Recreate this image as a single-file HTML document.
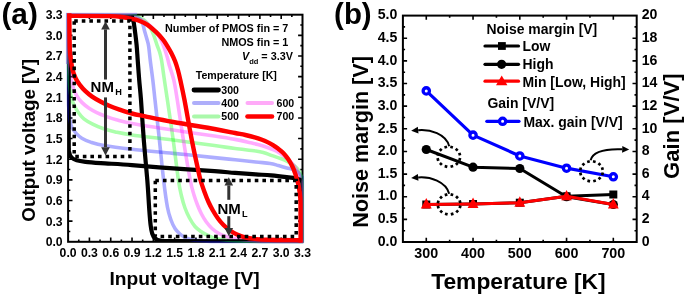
<!DOCTYPE html>
<html><head><meta charset="utf-8"><style>
html,body{margin:0;padding:0;background:#fff;width:685px;height:297px;overflow:hidden}
svg{display:block;will-change:transform}
text{font-family:"Liberation Sans",sans-serif}
</style></head><body>
<svg xmlns="http://www.w3.org/2000/svg" width="685" height="297" viewBox="0 0 685 297">
<rect width="685" height="297" fill="#fff"/>
<defs><clipPath id="ca"><rect x="65.7" y="12.5" width="238.8" height="231.5"/></clipPath><clipPath id="ck"><rect x="69" y="15.6" width="232.6" height="225.3"/></clipPath><clipPath id="cb"><rect x="401.9" y="14.6" width="235.8" height="228.4"/></clipPath></defs>
<rect x="68.1" y="14.7" width="234.4" height="227.1" fill="none" stroke="#000" stroke-width="2.0"/>
<path d="M78.75 241.8v-2.2 M78.75 14.7v2.2 M68.1 231.48h2.2 M302.5 231.48h-2.2 M89.41 241.8v-4.4 M89.41 14.7v4.4 M68.1 221.15h4.4 M302.5 221.15h-4.4 M100.06 241.8v-2.2 M100.06 14.7v2.2 M68.1 210.83h2.2 M302.5 210.83h-2.2 M110.72 241.8v-4.4 M110.72 14.7v4.4 M68.1 200.51h4.4 M302.5 200.51h-4.4 M121.37 241.8v-2.2 M121.37 14.7v2.2 M68.1 190.19h2.2 M302.5 190.19h-2.2 M132.03 241.8v-4.4 M132.03 14.7v4.4 M68.1 179.86h4.4 M302.5 179.86h-4.4 M142.68 241.8v-2.2 M142.68 14.7v2.2 M68.1 169.54h2.2 M302.5 169.54h-2.2 M153.34 241.8v-4.4 M153.34 14.7v4.4 M68.1 159.22h4.4 M302.5 159.22h-4.4 M163.99 241.8v-2.2 M163.99 14.7v2.2 M68.1 148.9h2.2 M302.5 148.9h-2.2 M174.65 241.8v-4.4 M174.65 14.7v4.4 M68.1 138.57h4.4 M302.5 138.57h-4.4 M185.3 241.8v-2.2 M185.3 14.7v2.2 M68.1 128.25h2.2 M302.5 128.25h-2.2 M195.95 241.8v-4.4 M195.95 14.7v4.4 M68.1 117.93h4.4 M302.5 117.93h-4.4 M206.61 241.8v-2.2 M206.61 14.7v2.2 M68.1 107.6h2.2 M302.5 107.6h-2.2 M217.26 241.8v-4.4 M217.26 14.7v4.4 M68.1 97.28h4.4 M302.5 97.28h-4.4 M227.92 241.8v-2.2 M227.92 14.7v2.2 M68.1 86.96h2.2 M302.5 86.96h-2.2 M238.57 241.8v-4.4 M238.57 14.7v4.4 M68.1 76.64h4.4 M302.5 76.64h-4.4 M249.23 241.8v-2.2 M249.23 14.7v2.2 M68.1 66.31h2.2 M302.5 66.31h-2.2 M259.88 241.8v-4.4 M259.88 14.7v4.4 M68.1 55.99h4.4 M302.5 55.99h-4.4 M270.54 241.8v-2.2 M270.54 14.7v2.2 M68.1 45.67h2.2 M302.5 45.67h-2.2 M281.19 241.8v-4.4 M281.19 14.7v4.4 M68.1 35.35h4.4 M302.5 35.35h-4.4 M291.85 241.8v-2.2 M291.85 14.7v2.2 M68.1 25.02h2.2 M302.5 25.02h-2.2" stroke="#000" stroke-width="1.6" fill="none"/>
<g clip-path="url(#ca)" fill="none" stroke-linejoin="round" stroke-linecap="butt">
<path d="M67.3 14.7 C77.42 14.72 116.72 14.65 128 14.8 C139.28 14.95 133 14.9 135 15.6 C137 16.3 138.7 17.6 140 19 C141.3 20.4 142.08 22.17 142.8 24 C143.52 25.83 143.67 27.67 144.3 30 C144.93 32.33 145.88 35.33 146.6 38 C147.32 40.67 148 42.33 148.6 46 C149.2 49.67 149.5 54.33 150.2 60 C150.9 65.67 152 73.33 152.8 80 C153.6 86.67 153.9 90 155 100 C156.1 110 157.97 126.67 159.4 140 C160.83 153.33 162.27 168.83 163.6 180 C164.93 191.17 166.17 200.33 167.4 207 C168.63 213.67 169.73 216.42 171 220 C172.27 223.58 173.5 226.17 175 228.5 C176.5 230.83 178.17 232.42 180 234 C181.83 235.58 183.83 237 186 238 C188.17 239 189.83 239.5 193 240 C196.17 240.5 200.5 240.75 205 241 C209.5 241.25 203.62 241.4 220 241.5 C236.38 241.6 289.42 241.58 303.3 241.6" stroke="#0000ff" stroke-width="3.6" stroke-opacity="0.32"/>
<path d="M302.5 242.58 C302.48 232.77 302.55 194.7 302.4 183.77 C302.24 172.83 302.29 178.92 301.57 176.98 C300.85 175.05 299.51 173.4 298.06 172.14 C296.62 170.88 294.79 170.12 292.9 169.43 C291.01 168.73 289.12 168.61 286.71 167.97 C284.3 167.33 281.2 166.35 278.45 165.59 C275.7 164.83 273.98 164 270.19 163.41 C266.41 162.82 261.59 162.66 255.74 162.05 C249.9 161.43 241.98 160.48 235.1 159.74 C228.22 159 224.78 158.67 214.46 157.61 C204.14 156.54 186.93 154.73 173.17 153.34 C159.41 151.95 143.41 150.57 131.89 149.27 C120.36 147.98 110.9 146.79 104.02 145.59 C97.14 144.4 94.3 143.33 90.6 142.1 C86.9 140.88 84.24 139.68 81.83 138.23 C79.42 136.78 77.78 135.16 76.15 133.38 C74.52 131.61 73.05 129.67 72.02 127.57 C70.99 125.47 70.47 123.86 69.96 120.79 C69.44 117.72 69.18 113.52 68.93 109.16 C68.67 104.8 68.51 110.5 68.41 94.63 C68.31 78.76 68.32 27.38 68.31 13.92" stroke="#0000ff" stroke-width="3.6" stroke-opacity="0.32"/>
<path d="M67.3 15 C77.25 15.03 115.3 14.95 127 15.2 C138.7 15.45 134.67 15.7 137.5 16.5 C140.33 17.3 142.17 18.58 144 20 C145.83 21.42 147.25 23.33 148.5 25 C149.75 26.67 150.58 28.17 151.5 30 C152.42 31.83 153.08 33.5 154 36 C154.92 38.5 156.07 42.33 157 45 C157.93 47.67 158.85 49.5 159.6 52 C160.35 54.5 160.7 55.33 161.5 60 C162.3 64.67 163.42 73.33 164.4 80 C165.38 86.67 165.93 90 167.4 100 C168.87 110 171.37 126.67 173.2 140 C175.03 153.33 177.02 170.67 178.4 180 C179.78 189.33 180.4 191.33 181.5 196 C182.6 200.67 183.67 204.33 185 208 C186.33 211.67 187.83 214.92 189.5 218 C191.17 221.08 193.08 224.25 195 226.5 C196.92 228.75 198.83 230 201 231.5 C203.17 233 205.5 234.33 208 235.5 C210.5 236.67 212.67 237.7 216 238.5 C219.33 239.3 223.17 239.85 228 240.3 C232.83 240.75 239.67 241 245 241.2 C250.33 241.4 250.28 241.43 260 241.5 C269.72 241.57 296.08 241.58 303.3 241.6" stroke="#00ff00" stroke-width="3.6" stroke-opacity="0.33"/>
<path d="M302.19 242.58 C302.16 232.93 302.24 196.07 301.98 184.73 C301.73 173.4 301.47 177.31 300.64 174.56 C299.82 171.82 298.49 170.04 297.03 168.26 C295.57 166.49 293.59 165.11 291.87 163.9 C290.15 162.69 288.6 161.9 286.71 161 C284.82 160.1 283.1 159.43 280.52 158.5 C277.93 157.57 273.98 156.36 271.23 155.39 C268.47 154.43 266.58 153.44 264 152.7 C261.42 151.96 260.56 151.65 255.74 150.95 C250.93 150.25 241.98 149.39 235.1 148.5 C228.22 147.61 224.78 147.01 214.46 145.59 C204.14 144.17 186.93 141.75 173.17 139.97 C159.41 138.2 141.52 136.28 131.89 134.94 C122.25 133.59 120.19 133 115.37 131.93 C110.56 130.87 106.77 129.83 102.99 128.54 C99.2 127.25 95.85 125.8 92.67 124.18 C89.48 122.57 86.21 120.71 83.89 118.85 C81.57 117 80.28 115.14 78.73 113.04 C77.18 110.94 75.81 108.68 74.6 106.26 C73.4 103.83 72.33 101.74 71.51 98.51 C70.68 95.28 70.11 91.56 69.65 86.88 C69.18 82.2 68.93 75.58 68.72 70.41 C68.51 65.24 68.48 65.29 68.41 55.88 C68.34 46.46 68.32 20.92 68.31 13.92" stroke="#00ff00" stroke-width="3.6" stroke-opacity="0.33"/>
<path d="M67.3 15.5 C76.75 15.55 112.88 15.52 124 15.8 C135.12 16.08 130.83 16.42 134 17.2 C137.17 17.98 140.33 19.12 143 20.5 C145.67 21.88 148 23.75 150 25.5 C152 27.25 153.5 29.17 155 31 C156.5 32.83 157.83 34.67 159 36.5 C160.17 38.33 161 39.75 162 42 C163 44.25 164.08 47.33 165 50 C165.92 52.67 166.8 55.5 167.5 58 C168.2 60.5 168.15 61.33 169.2 65 C170.25 68.67 172.45 74.17 173.8 80 C175.15 85.83 175.7 90 177.3 100 C178.9 110 181.25 126.67 183.4 140 C185.55 153.33 188.43 170.83 190.2 180 C191.97 189.17 192.78 190.83 194 195 C195.22 199.17 196.25 201.83 197.5 205 C198.75 208.17 200.08 211.25 201.5 214 C202.92 216.75 204.25 219.08 206 221.5 C207.75 223.92 209.83 226.5 212 228.5 C214.17 230.5 216.5 232.12 219 233.5 C221.5 234.88 224 235.88 227 236.8 C230 237.72 232.83 238.38 237 239 C241.17 239.62 246.5 240.12 252 240.5 C257.5 240.88 261.45 241.13 270 241.3 C278.55 241.47 297.75 241.47 303.3 241.5" stroke="#ff00ff" stroke-width="3.6" stroke-opacity="0.33"/>
<path d="M301.67 242.58 C301.62 233.42 301.66 198.41 301.36 187.64 C301.07 176.87 300.73 181.02 299.92 177.95 C299.11 174.88 297.94 171.82 296.51 169.23 C295.09 166.64 293.16 164.41 291.35 162.42 C289.55 160.43 287.57 158.83 285.68 157.29 C283.78 155.75 281.89 154.39 280 153.19 C278.11 151.99 276.64 151.11 274.32 150.08 C272 149.05 268.82 147.92 266.07 147 C263.31 146.07 260.39 145.23 257.81 144.53 C255.23 143.84 254.37 143.71 250.58 142.85 C246.8 141.99 241.12 140.53 235.1 139.39 C229.08 138.25 224.78 137.55 214.46 136 C204.14 134.45 186.93 132.17 173.17 130.09 C159.41 128.01 141.35 125.21 131.89 123.5 C122.43 121.79 120.7 121 116.4 119.82 C112.1 118.64 109.35 117.64 106.08 116.43 C102.81 115.22 99.63 113.93 96.79 112.55 C93.96 111.18 91.55 109.89 89.05 108.19 C86.56 106.5 83.89 104.48 81.83 102.38 C79.76 100.28 78.09 98.02 76.67 95.6 C75.24 93.18 74.21 90.76 73.26 87.85 C72.31 84.94 71.63 82.2 70.99 78.16 C70.35 74.12 69.84 68.96 69.44 63.63 C69.05 58.3 68.79 54.47 68.62 46.19 C68.44 37.9 68.44 19.3 68.41 13.92" stroke="#ff00ff" stroke-width="3.6" stroke-opacity="0.33"/>
<path d="M67.3 14.7 C77.08 14.7 115.33 14.48 126 14.7 C136.67 14.92 130.07 14.95 131.3 16 C132.53 17.05 132.82 18.67 133.4 21 C133.98 23.33 134.27 26 134.8 30 C135.33 34 136.12 40 136.6 45 C137.08 50 137.27 54.17 137.7 60 C138.13 65.83 138.65 73.33 139.2 80 C139.75 86.67 140.23 90 141 100 C141.77 110 142.75 126.67 143.8 140 C144.85 153.33 146.38 168.33 147.3 180 C148.22 191.67 148.75 202.5 149.3 210 C149.85 217.5 150.12 221.08 150.6 225 C151.08 228.92 151.47 231.28 152.2 233.5 C152.93 235.72 153.7 237.12 155 238.3 C156.3 239.48 156.67 240.12 160 240.6 C163.33 241.08 151.12 241.08 175 241.2 C198.88 241.32 281.92 241.28 303.3 241.3" stroke="#000" stroke-width="4.2" clip-path="url(#ck)"/>
<path d="M302.5 242.58 C302.5 233.1 302.72 196.04 302.5 185.7 C302.28 175.37 302.24 181.76 301.16 180.57 C300.07 179.37 298.41 179.1 296 178.53 C293.59 177.97 290.84 177.69 286.71 177.18 C282.58 176.66 276.39 175.9 271.23 175.43 C266.07 174.97 261.76 174.79 255.74 174.37 C249.72 173.95 241.98 173.45 235.1 172.91 C228.22 172.38 224.78 171.91 214.46 171.17 C204.14 170.43 186.93 169.47 173.17 168.46 C159.41 167.44 143.93 165.95 131.89 165.07 C119.84 164.18 108.66 163.66 100.92 163.13 C93.18 162.6 89.48 162.34 85.44 161.87 C81.4 161.4 78.95 161.03 76.67 160.32 C74.38 159.61 72.93 158.87 71.71 157.61 C70.49 156.35 69.84 155.99 69.34 152.76 C68.84 149.53 68.84 161.37 68.72 138.23 C68.6 115.09 68.63 34.64 68.62 13.92" stroke="#000" stroke-width="4.2" clip-path="url(#ck)"/>
<path d="M65.8 13.5H137M66.5 13V64" stroke="#9c94dc" stroke-width="1.5"/>
<path d="M67.3 15.9 C74.42 15.93 100.88 15.92 110 16.1 C119.12 16.28 118.67 16.6 122 17 C125.33 17.4 127.27 17.92 130 18.5 C132.73 19.08 135.48 19.45 138.4 20.5 C141.32 21.55 144.53 22.85 147.5 24.8 C150.47 26.75 153.62 29.73 156.2 32.2 C158.78 34.67 161.17 37.33 163 39.6 C164.83 41.87 165.82 43.57 167.2 45.8 C168.58 48.03 170 50.47 171.3 53 C172.6 55.53 173.9 58.17 175 61 C176.1 63.83 177.02 66.83 177.9 70 C178.78 73.17 179.2 75 180.3 80 C181.4 85 182.58 90 184.5 100 C186.42 110 189.63 128.83 191.8 140 C193.97 151.17 196.05 160.33 197.5 167 C198.95 173.67 199.33 175.83 200.5 180 C201.67 184.17 203.17 188.33 204.5 192 C205.83 195.67 207.1 198.92 208.5 202 C209.9 205.08 211.32 207.75 212.9 210.5 C214.48 213.25 216.23 216.08 218 218.5 C219.77 220.92 221.5 223 223.5 225 C225.5 227 227.75 228.92 230 230.5 C232.25 232.08 234.5 233.37 237 234.5 C239.5 235.63 242 236.57 245 237.3 C248 238.03 251.17 238.48 255 238.9 C258.83 239.32 260.2 239.58 268 239.8 C275.8 240.02 296.17 240.13 301.8 240.2" stroke="#ff0000" stroke-width="4.4"/>
<path d="M69.3 13.2 C69.38 19 69.52 40.12 69.8 48 C70.08 55.88 70.52 56.77 71 60.5 C71.48 64.23 71.93 67.45 72.7 70.4 C73.47 73.35 74.42 75.78 75.6 78.2 C76.78 80.62 78.17 82.73 79.8 84.9 C81.43 87.07 83.35 89.25 85.4 91.2 C87.45 93.15 89.6 94.88 92.1 96.6 C94.6 98.32 97.55 99.97 100.4 101.5 C103.25 103.03 106.02 104.45 109.2 105.8 C112.38 107.15 115.72 108.32 119.5 109.6 C123.28 110.88 127.6 112.37 131.9 113.5 C136.2 114.63 138.42 114.98 145.3 116.4 C152.18 117.82 161.67 119.9 173.2 122 C184.73 124.1 204.18 127.17 214.5 129 C224.82 130.83 229.95 132 235.1 133 C240.25 134 242.13 134.28 245.4 135 C248.67 135.72 251.93 136.5 254.7 137.3 C257.47 138.1 259.78 138.95 262 139.8 C264.22 140.65 266.17 141.5 268 142.4 C269.83 143.3 271.33 144.17 273 145.2 C274.67 146.23 276.25 147.27 278 148.6 C279.75 149.93 281.78 151.42 283.5 153.2 C285.22 154.98 286.83 157.12 288.3 159.3 C289.77 161.48 291.15 163.93 292.3 166.3 C293.45 168.67 294.37 171.13 295.2 173.5 C296.03 175.87 296.67 178.08 297.3 180.5 C297.93 182.92 298.53 185.42 299 188 C299.47 190.58 299.85 193.17 300.1 196 C300.35 198.83 300.42 197.25 300.5 205 C300.58 212.75 300.58 236.25 300.6 242.5" stroke="#ff0000" stroke-width="4.4"/>
</g>
<path d="M74.2 20.9H129.9V156.4H74.2Z" fill="none" stroke="#000" stroke-width="3.5" stroke-dasharray="3.6 3.97" stroke-dashoffset="0" stroke-linejoin="miter"/>
<path d="M155.3 180.6H296.2V236.6H155.3Z" fill="none" stroke="#000" stroke-width="3.5" stroke-dasharray="3.6 4.05" stroke-dashoffset="0" stroke-linejoin="miter"/>
<path d="M105.5 29.4V79.5" stroke="#333" stroke-width="3.0"/><path d="M105.5 21.2L101.2 29.4L109.8 29.4Z" fill="#333"/>
<path d="M105.5 147.2V97.4" stroke="#333" stroke-width="3.0"/><path d="M105.5 155.4L101.2 147.2L109.8 147.2Z" fill="#333"/>
<path d="M228.8 185.4V199.8" stroke="#333" stroke-width="3.0"/><path d="M228.8 177.2L224.5 185.4L233.1 185.4Z" fill="#333"/>
<path d="M228.8 228V216.2" stroke="#333" stroke-width="3.0"/><path d="M228.8 236.2L224.5 228L233.1 228Z" fill="#333"/>
<rect x="402.9" y="15.6" width="233.8" height="226.4" fill="none" stroke="#000" stroke-width="2.0"/>
<path d="M426.28 242v-4.2 M426.28 15.6v4.2 M449.66 242v-2.2 M449.66 15.6v2.2 M473.04 242v-4.2 M473.04 15.6v4.2 M496.42 242v-2.2 M496.42 15.6v2.2 M519.8 242v-4.2 M519.8 15.6v4.2 M543.18 242v-2.2 M543.18 15.6v2.2 M566.56 242v-4.2 M566.56 15.6v4.2 M589.94 242v-2.2 M589.94 15.6v2.2 M613.32 242v-4.2 M613.32 15.6v4.2 M402.9 230.68h2.2 M636.7 230.68h-2.2 M402.9 219.36h4.2 M636.7 219.36h-4.2 M402.9 208.04h2.2 M636.7 208.04h-2.2 M402.9 196.72h4.2 M636.7 196.72h-4.2 M402.9 185.4h2.2 M636.7 185.4h-2.2 M402.9 174.08h4.2 M636.7 174.08h-4.2 M402.9 162.76h2.2 M636.7 162.76h-2.2 M402.9 151.44h4.2 M636.7 151.44h-4.2 M402.9 140.12h2.2 M636.7 140.12h-2.2 M402.9 128.8h4.2 M636.7 128.8h-4.2 M402.9 117.48h2.2 M636.7 117.48h-2.2 M402.9 106.16h4.2 M636.7 106.16h-4.2 M402.9 94.84h2.2 M636.7 94.84h-2.2 M402.9 83.52h4.2 M636.7 83.52h-4.2 M402.9 72.2h2.2 M636.7 72.2h-2.2 M402.9 60.88h4.2 M636.7 60.88h-4.2 M402.9 49.56h2.2 M636.7 49.56h-2.2 M402.9 38.24h4.2 M636.7 38.24h-4.2 M402.9 26.92h2.2 M636.7 26.92h-2.2" stroke="#000" stroke-width="1.6" fill="none"/>
<polyline points="426.28,204.51 473.04,204.01 519.8,202.7 566.56,196.31 613.32,194.5" fill="none" stroke="#000" stroke-width="3" stroke-linejoin="round"/>
<rect x="422.28" y="200.51" width="8" height="8" fill="#000"/>
<rect x="469.04" y="200.01" width="8" height="8" fill="#000"/>
<rect x="515.8" y="198.7" width="8" height="8" fill="#000"/>
<rect x="562.56" y="192.31" width="8" height="8" fill="#000"/>
<rect x="609.32" y="190.5" width="8" height="8" fill="#000"/>
<polyline points="426.28,149.49 473.04,167.2 519.8,168.51 566.56,196.72 613.32,204.51" fill="none" stroke="#000" stroke-width="3" stroke-linejoin="round"/>
<circle cx="426.28" cy="149.49" r="4.6" fill="#000"/>
<circle cx="473.04" cy="167.2" r="4.6" fill="#000"/>
<circle cx="519.8" cy="168.51" r="4.6" fill="#000"/>
<circle cx="566.56" cy="196.72" r="4.6" fill="#000"/>
<circle cx="613.32" cy="204.51" r="4.6" fill="#000"/>
<polyline points="426.28,204.51 473.04,204.01 519.8,202.7 566.56,196.31 613.32,204.51" fill="none" stroke="#ff0000" stroke-width="3" stroke-linejoin="round"/>
<path d="M426.28 198.11L420.88 208.51L431.68 208.51Z" fill="#ff0000"/>
<path d="M473.04 197.61L467.64 208.01L478.44 208.01Z" fill="#ff0000"/>
<path d="M519.8 196.3L514.4 206.7L525.2 206.7Z" fill="#ff0000"/>
<path d="M566.56 189.91L561.16 200.31L571.96 200.31Z" fill="#ff0000"/>
<path d="M613.32 198.11L607.92 208.51L618.72 208.51Z" fill="#ff0000"/>
<polyline points="426.28,90.9 473.04,135.14 519.8,155.97 566.56,168.19 613.32,176.8" fill="none" stroke="#0000ff" stroke-width="3.2" stroke-linejoin="round"/>
<circle cx="426.28" cy="90.9" r="3.15" fill="#fff" stroke="#0000ff" stroke-width="3.3"/>
<circle cx="473.04" cy="135.14" r="3.15" fill="#fff" stroke="#0000ff" stroke-width="3.3"/>
<circle cx="519.8" cy="155.97" r="3.15" fill="#fff" stroke="#0000ff" stroke-width="3.3"/>
<circle cx="566.56" cy="168.19" r="3.15" fill="#fff" stroke="#0000ff" stroke-width="3.3"/>
<circle cx="613.32" cy="176.8" r="3.15" fill="#fff" stroke="#0000ff" stroke-width="3.3"/>
<rect x="458.4" y="157.92" width="2.7" height="2.7" fill="#000" transform="rotate(14.32 459.75 159.27)"/><rect x="455.53" y="162.44" width="2.7" height="2.7" fill="#000" transform="rotate(44.32 456.88 163.79)"/><rect x="450.5" y="165.08" width="2.7" height="2.7" fill="#000" transform="rotate(74.32 451.85 166.43)"/><rect x="444.65" y="165.14" width="2.7" height="2.7" fill="#000" transform="rotate(104.32 446 166.49)"/><rect x="439.55" y="162.6" width="2.7" height="2.7" fill="#000" transform="rotate(134.32 440.9 163.95)"/><rect x="436.57" y="158.15" width="2.7" height="2.7" fill="#000" transform="rotate(164.32 437.92 159.5)"/><rect x="436.5" y="152.98" width="2.7" height="2.7" fill="#000" transform="rotate(194.32 437.85 154.33)"/><rect x="439.37" y="148.46" width="2.7" height="2.7" fill="#000" transform="rotate(224.32 440.72 149.81)"/><rect x="444.4" y="145.82" width="2.7" height="2.7" fill="#000" transform="rotate(254.32 445.75 147.17)"/><rect x="450.25" y="145.76" width="2.7" height="2.7" fill="#000" transform="rotate(284.32 451.6 147.11)"/><rect x="455.35" y="148.3" width="2.7" height="2.7" fill="#000" transform="rotate(314.32 456.7 149.65)"/><rect x="458.33" y="152.75" width="2.7" height="2.7" fill="#000" transform="rotate(344.32 459.68 154.1)"/>
<rect x="458.7" y="205.52" width="2.7" height="2.7" fill="#000" transform="rotate(14.32 460.05 206.87)"/><rect x="455.83" y="210.04" width="2.7" height="2.7" fill="#000" transform="rotate(44.32 457.18 211.39)"/><rect x="450.8" y="212.68" width="2.7" height="2.7" fill="#000" transform="rotate(74.32 452.15 214.03)"/><rect x="444.95" y="212.74" width="2.7" height="2.7" fill="#000" transform="rotate(104.32 446.3 214.09)"/><rect x="439.85" y="210.2" width="2.7" height="2.7" fill="#000" transform="rotate(134.32 441.2 211.55)"/><rect x="436.87" y="205.75" width="2.7" height="2.7" fill="#000" transform="rotate(164.32 438.22 207.1)"/><rect x="436.8" y="200.58" width="2.7" height="2.7" fill="#000" transform="rotate(194.32 438.15 201.93)"/><rect x="439.67" y="196.06" width="2.7" height="2.7" fill="#000" transform="rotate(224.32 441.02 197.41)"/><rect x="444.7" y="193.42" width="2.7" height="2.7" fill="#000" transform="rotate(254.32 446.05 194.77)"/><rect x="450.55" y="193.36" width="2.7" height="2.7" fill="#000" transform="rotate(284.32 451.9 194.71)"/><rect x="455.65" y="195.9" width="2.7" height="2.7" fill="#000" transform="rotate(314.32 457 197.25)"/><rect x="458.63" y="200.35" width="2.7" height="2.7" fill="#000" transform="rotate(344.32 459.98 201.7)"/>
<rect x="601.1" y="172.42" width="2.7" height="2.7" fill="#000" transform="rotate(14.32 602.45 173.77)"/><rect x="598.23" y="176.94" width="2.7" height="2.7" fill="#000" transform="rotate(44.32 599.58 178.29)"/><rect x="593.2" y="179.58" width="2.7" height="2.7" fill="#000" transform="rotate(74.32 594.55 180.93)"/><rect x="587.35" y="179.64" width="2.7" height="2.7" fill="#000" transform="rotate(104.32 588.7 180.99)"/><rect x="582.25" y="177.1" width="2.7" height="2.7" fill="#000" transform="rotate(134.32 583.6 178.45)"/><rect x="579.27" y="172.65" width="2.7" height="2.7" fill="#000" transform="rotate(164.32 580.62 174)"/><rect x="579.2" y="167.48" width="2.7" height="2.7" fill="#000" transform="rotate(194.32 580.55 168.83)"/><rect x="582.07" y="162.96" width="2.7" height="2.7" fill="#000" transform="rotate(224.32 583.42 164.31)"/><rect x="587.1" y="160.32" width="2.7" height="2.7" fill="#000" transform="rotate(254.32 588.45 161.67)"/><rect x="592.95" y="160.26" width="2.7" height="2.7" fill="#000" transform="rotate(284.32 594.3 161.61)"/><rect x="598.05" y="162.8" width="2.7" height="2.7" fill="#000" transform="rotate(314.32 599.4 164.15)"/><rect x="601.03" y="167.25" width="2.7" height="2.7" fill="#000" transform="rotate(344.32 602.38 168.6)"/>
<path d="M449.2 146.2C446 134 430 129 418.17 130.13" fill="none" stroke="#000" stroke-width="2"/><path d="M411.2 130.8L417.85 126.85L418.48 133.42Z" fill="#000"/>
<path d="M449.2 193.8C446 181.6 430 176.4 418.17 177.41" fill="none" stroke="#000" stroke-width="2"/><path d="M411.2 178L417.89 174.12L418.45 180.69Z" fill="#000"/>
<path d="M590.6 160.2C593 151 608 148.8 622.2 149.34" fill="none" stroke="#000" stroke-width="2"/><path d="M629.2 149.6L622.08 152.63L622.33 146.04Z" fill="#000"/>
<g stroke-linecap="round" fill="none">
<path d="M194 90H218.5" stroke="#000" stroke-width="4.8"/>
<path d="M194 103.1H218.5" stroke="#aeaefa" stroke-width="4"/>
<path d="M194 116.5H218.5" stroke="#aaf8aa" stroke-width="4"/>
<path d="M247.5 103.1H272" stroke="#ffaaf8" stroke-width="4"/>
<path d="M247.5 116.5H272" stroke="#ff0000" stroke-width="4.6"/>
</g>
<g stroke-linecap="round">
<path d="M485 46H518.5" stroke="#000" stroke-width="3.2"/><rect x="498" y="42.1" width="7.8" height="7.8"/>
<path d="M485 64.3H518.5" stroke="#000" stroke-width="3.2"/><circle cx="501.6" cy="64.3" r="4.6"/>
<path d="M485 81.2H518.5" stroke="#f00" stroke-width="3.2"/><path d="M501.7 75.4L496 85.2L507.4 85.2Z" fill="#f00"/>
<path d="M486.8 121.3H519" stroke="#00f" stroke-width="3.2"/><circle cx="502.6" cy="121.3" r="3.15" fill="#fff" stroke="#00f" stroke-width="3.3"/>
</g>
<g font-family="Liberation Sans, sans-serif" fill="#000">
<text x="68.1" y="256.9" font-size="12.2" text-anchor="middle" font-weight="bold">0.0</text>
<text x="62.6" y="246.2" font-size="12.2" text-anchor="end" font-weight="bold">0.0</text>
<text x="89.41" y="256.9" font-size="12.2" text-anchor="middle" font-weight="bold">0.3</text>
<text x="62.6" y="225.55" font-size="12.2" text-anchor="end" font-weight="bold">0.3</text>
<text x="110.72" y="256.9" font-size="12.2" text-anchor="middle" font-weight="bold">0.6</text>
<text x="62.6" y="204.91" font-size="12.2" text-anchor="end" font-weight="bold">0.6</text>
<text x="132.03" y="256.9" font-size="12.2" text-anchor="middle" font-weight="bold">0.9</text>
<text x="62.6" y="184.26" font-size="12.2" text-anchor="end" font-weight="bold">0.9</text>
<text x="153.34" y="256.9" font-size="12.2" text-anchor="middle" font-weight="bold">1.2</text>
<text x="62.6" y="163.62" font-size="12.2" text-anchor="end" font-weight="bold">1.2</text>
<text x="174.65" y="256.9" font-size="12.2" text-anchor="middle" font-weight="bold">1.5</text>
<text x="62.6" y="142.97" font-size="12.2" text-anchor="end" font-weight="bold">1.5</text>
<text x="195.95" y="256.9" font-size="12.2" text-anchor="middle" font-weight="bold">1.8</text>
<text x="62.6" y="122.33" font-size="12.2" text-anchor="end" font-weight="bold">1.8</text>
<text x="217.26" y="256.9" font-size="12.2" text-anchor="middle" font-weight="bold">2.1</text>
<text x="62.6" y="101.68" font-size="12.2" text-anchor="end" font-weight="bold">2.1</text>
<text x="238.57" y="256.9" font-size="12.2" text-anchor="middle" font-weight="bold">2.4</text>
<text x="62.6" y="81.04" font-size="12.2" text-anchor="end" font-weight="bold">2.4</text>
<text x="259.88" y="256.9" font-size="12.2" text-anchor="middle" font-weight="bold">2.7</text>
<text x="62.6" y="60.39" font-size="12.2" text-anchor="end" font-weight="bold">2.7</text>
<text x="281.19" y="256.9" font-size="12.2" text-anchor="middle" font-weight="bold">3.0</text>
<text x="62.6" y="39.75" font-size="12.2" text-anchor="end" font-weight="bold">3.0</text>
<text x="302.5" y="256.9" font-size="12.2" text-anchor="middle" font-weight="bold">3.3</text>
<text x="62.6" y="19.3" font-size="12.2" text-anchor="end" font-weight="bold">3.3</text>
<text x="184.6" y="284.8" font-size="19.2" text-anchor="middle" font-weight="bold">Input voltage [V]</text>
<text x="35" y="140.3" font-size="18.8" text-anchor="middle" font-weight="bold" transform="rotate(-90 35 140.3)">Output voltage [V]</text>
<text x="1.4" y="24.2" font-size="29.8" text-anchor="start" font-weight="bold">(a)</text>
<text x="288.3" y="32.3" font-size="10.8" text-anchor="end" font-weight="bold">Number of PMOS fin = 7</text>
<text x="288.3" y="45.6" font-size="10.8" text-anchor="end" font-weight="bold">NMOS fin = 1</text>
<text x="292.9" y="60.3" font-size="10.8" text-anchor="end" font-weight="bold"><tspan font-style="italic">V</tspan><tspan font-size="7.5" dy="3.5">dd</tspan><tspan dy="-3.5"> = 3.3V</tspan></text>
<text x="195.8" y="78.6" font-size="10.6" text-anchor="start" font-weight="bold">Temperature [K]</text>
<text x="221.3" y="93.7" font-size="10.6" text-anchor="start" font-weight="bold">300</text>
<text x="221.3" y="106.9" font-size="10.6" text-anchor="start" font-weight="bold">400</text>
<text x="221.3" y="120.3" font-size="10.6" text-anchor="start" font-weight="bold">500</text>
<text x="276.5" y="106.9" font-size="10.6" text-anchor="start" font-weight="bold">600</text>
<text x="276.5" y="120.3" font-size="10.6" text-anchor="start" font-weight="bold">700</text>
<text x="90.6" y="91.6" font-size="15" font-weight="bold">NM<tspan font-size="9.2" dx="1.2" dy="3">H</tspan></text>
<text x="217.5" y="213.6" font-size="15" font-weight="bold">NM<tspan font-size="9.2" dx="1.2" dy="3">L</tspan></text>
<text x="397.3" y="245.7" font-size="14.1" text-anchor="end" font-weight="bold">0.0</text>
<text x="397.3" y="223.06" font-size="14.1" text-anchor="end" font-weight="bold">0.5</text>
<text x="397.3" y="200.42" font-size="14.1" text-anchor="end" font-weight="bold">1.0</text>
<text x="397.3" y="177.78" font-size="14.1" text-anchor="end" font-weight="bold">1.5</text>
<text x="397.3" y="155.14" font-size="14.1" text-anchor="end" font-weight="bold">2.0</text>
<text x="397.3" y="132.5" font-size="14.1" text-anchor="end" font-weight="bold">2.5</text>
<text x="397.3" y="109.86" font-size="14.1" text-anchor="end" font-weight="bold">3.0</text>
<text x="397.3" y="87.22" font-size="14.1" text-anchor="end" font-weight="bold">3.5</text>
<text x="397.3" y="64.58" font-size="14.1" text-anchor="end" font-weight="bold">4.0</text>
<text x="397.3" y="41.94" font-size="14.1" text-anchor="end" font-weight="bold">4.5</text>
<text x="397.3" y="19.3" font-size="14.1" text-anchor="end" font-weight="bold">5.0</text>
<text x="641.7" y="245.7" font-size="14.1" text-anchor="start" font-weight="bold">0</text>
<text x="641.7" y="223.06" font-size="14.1" text-anchor="start" font-weight="bold">2</text>
<text x="641.7" y="200.42" font-size="14.1" text-anchor="start" font-weight="bold">4</text>
<text x="641.7" y="177.78" font-size="14.1" text-anchor="start" font-weight="bold">6</text>
<text x="641.7" y="155.14" font-size="14.1" text-anchor="start" font-weight="bold">8</text>
<text x="641.7" y="132.5" font-size="14.1" text-anchor="start" font-weight="bold">10</text>
<text x="641.7" y="109.86" font-size="14.1" text-anchor="start" font-weight="bold">12</text>
<text x="641.7" y="87.22" font-size="14.1" text-anchor="start" font-weight="bold">14</text>
<text x="641.7" y="64.58" font-size="14.1" text-anchor="start" font-weight="bold">16</text>
<text x="641.7" y="41.94" font-size="14.1" text-anchor="start" font-weight="bold">18</text>
<text x="641.7" y="19.3" font-size="14.1" text-anchor="start" font-weight="bold">20</text>
<text x="426.28" y="258.3" font-size="14.3" text-anchor="middle" font-weight="bold">300</text>
<text x="473.04" y="258.3" font-size="14.3" text-anchor="middle" font-weight="bold">400</text>
<text x="519.8" y="258.3" font-size="14.3" text-anchor="middle" font-weight="bold">500</text>
<text x="566.56" y="258.3" font-size="14.3" text-anchor="middle" font-weight="bold">600</text>
<text x="613.32" y="258.3" font-size="14.3" text-anchor="middle" font-weight="bold">700</text>
<text x="518.4" y="289.2" font-size="22.8" text-anchor="middle" font-weight="bold">Temperature [K]</text>
<text x="368.3" y="141.9" font-size="21.6" text-anchor="middle" font-weight="bold" transform="rotate(-90 368.3 141.9)">Noise margin [V]</text>
<text x="679" y="126.1" font-size="22.1" text-anchor="middle" font-weight="bold" transform="rotate(-90 679 126.1)">Gain [V/V]</text>
<text x="334.1" y="24.2" font-size="29.4" text-anchor="start" font-weight="bold">(b)</text>
<text x="486.5" y="33.6" font-size="13.95" text-anchor="start" font-weight="bold">Noise margin [V]</text>
<text x="522.5" y="50.5" font-size="13.95" text-anchor="start" font-weight="bold">Low</text>
<text x="522.5" y="69" font-size="13.95" text-anchor="start" font-weight="bold">High</text>
<text x="522.5" y="87.2" font-size="13.95" text-anchor="start" font-weight="bold">Min [Low, High]</text>
<text x="487.5" y="107.8" font-size="13.95" text-anchor="start" font-weight="bold">Gain [V/V]</text>
<text x="523.5" y="126.5" font-size="13.95" text-anchor="start" font-weight="bold">Max. gain [V/V]</text>
</g>
</svg>
</body></html>
